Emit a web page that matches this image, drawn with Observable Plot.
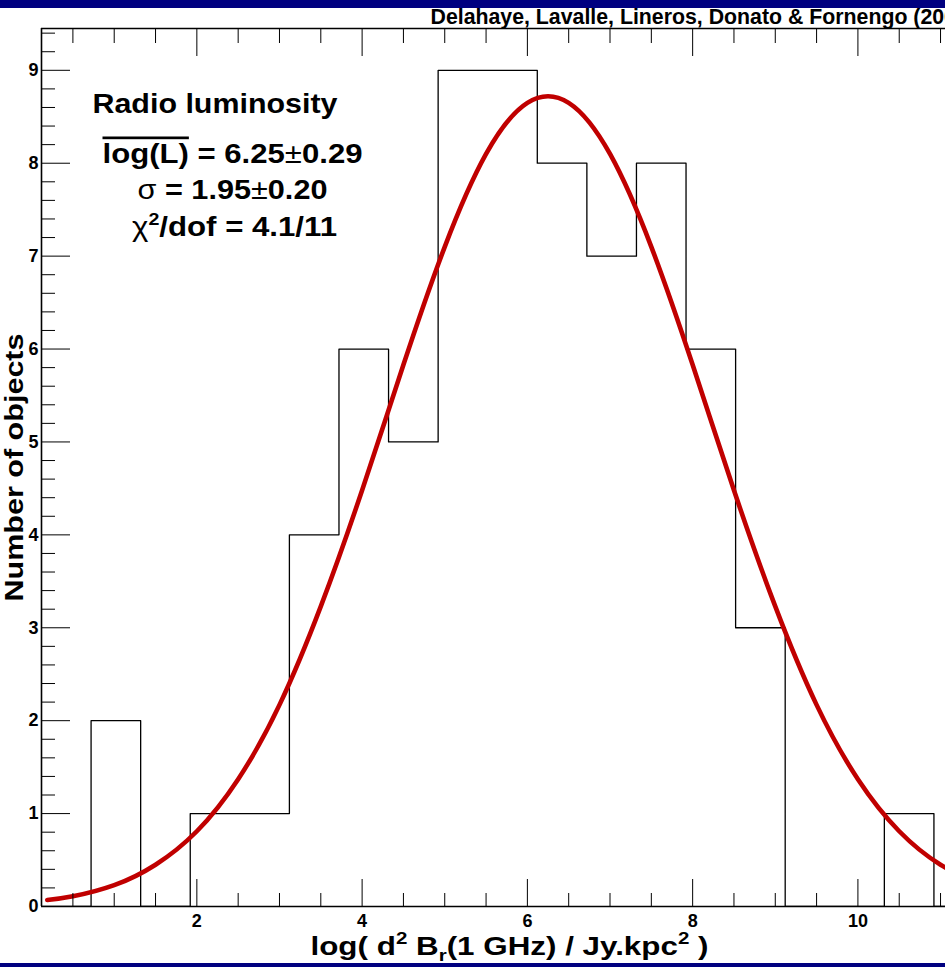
<!DOCTYPE html>
<html>
<head>
<meta charset="utf-8">
<script src="https://cdn.jsdelivr.net/npm/d3@7"></script>
<script src="https://cdn.jsdelivr.net/npm/@observablehq/plot@0.6"></script>
<style>
  html, body { margin: 0; padding: 0; background: #ffffff; }
  #wrap { width: 945px; border-top: 8px solid #000080; border-bottom: 4px solid #000080; overflow: hidden; background: #fff; }
  svg { display: block; }
</style>
</head>
<body>
<div id="wrap"></div>
<script>
// ---- data ----
const binLow   = [0.12, 0.72, 1.32, 1.92, 2.52, 3.12, 3.72, 4.32, 4.92, 5.52, 6.12, 6.72, 7.32, 7.92, 8.52, 9.12, 9.72, 10.32, 10.92, 11.52];
const binCount = [0,    2,    0,    1,    1,    4,    6,    5,    9,    9,    8,    7,    8,    6,    3,    0,    0,    1,     0,     0];

// fitted curve
const fitX = [0.19, 0.5, 1.0, 1.5, 2.0, 2.5, 3.0, 3.5, 4.0, 4.5, 5.0, 5.5, 6.0, 6.5, 7.0, 7.5, 8.0, 8.5, 9.0, 9.5, 10.0, 10.5, 11.0, 11.5];
const fitY = [0.07, 0.11, 0.23, 0.45, 0.81, 1.37, 2.17, 3.23, 4.48, 5.83, 7.10, 8.10, 8.65, 8.65, 8.10, 7.10, 5.83, 4.48, 3.23, 2.17, 1.37, 0.81, 0.45, 0.23];

const xMajorTicks = [2, 4, 6, 8, 10];
const xMinorTicks = [0.5, 1, 1.5, 2.5, 3, 3.5, 4.5, 5, 5.5, 6.5, 7, 7.5, 8.5, 9, 9.5, 10.5, 11];
const yMajorTicks = [0, 1, 2, 3, 4, 5, 6, 7, 8, 9];
const yMinorTicks = d3.range(0, 9.45, 0.2).map(v => +v.toFixed(1)).filter(v => Math.abs(v - Math.round(v)) > 1e-6);

const xDomain = [0.12, 11.06];
const yDomain = [0, 9.45];

const annotationLines = ["Radio luminosity", "log(L) = 6.25±0.29", "σ = 1.95±0.20", "χ2/dof = 4.1/11"];
const xTitle = "log( d2 Br(1 GHz) / Jy.kpc2 )";
const yTitle = "Number of objects";
const credit = "Delahaye, Lavalle, Lineros, Donato & Fornengo (2008)";

// ---- tables for the library ----
const hist = binLow.map((x, i) => ({x, y: binCount[i]}));
const fit = fitX.map((x, i) => ({x, y: fitY[i]}));

const font = "'Liberation Sans', Arial, Helvetica, sans-serif";

const chart = Plot.plot({
  width: 945,
  height: 955,
  marginLeft: 41,
  marginRight: 0,
  marginTop: 20,
  marginBottom: 57,
  x: {domain: xDomain, label: null},
  y: {domain: yDomain, label: null},
  style: {fontFamily: font, fontWeight: "bold", background: "#ffffff", color: "#000", overflow: "hidden"},
  marks: [
    // histogram outline
    Plot.line(hist, {x: "x", y: "y", curve: "step-after", stroke: "#000", strokeWidth: 1.3, clip: true}),
    // fitted gaussian
    Plot.line(fit, {x: "x", y: "y", curve: "natural", stroke: "#c00000", strokeWidth: 4.6, clip: true}),
    // frame (left, bottom, top)
    Plot.ruleX([xDomain[0]], {stroke: "#000", strokeWidth: 1.6}),
    Plot.ruleY([yDomain[0]], {stroke: "#000", strokeWidth: 1.6}),
    Plot.ruleY([yDomain[1]], {stroke: "#000", strokeWidth: 1.3}),
    // inward ticks
    Plot.axisX(xMajorTicks, {anchor: "bottom", tickSize: -27, tickFormat: () => "", label: null, stroke: "#000"}),
    Plot.axisX(xMinorTicks, {anchor: "bottom", tickSize: -13, tickFormat: () => "", label: null, stroke: "#000"}),
    Plot.axisX(xMajorTicks, {anchor: "top", tickSize: -27, tickFormat: () => "", label: null, stroke: "#000"}),
    Plot.axisX(xMinorTicks, {anchor: "top", tickSize: -14, tickFormat: () => "", label: null, stroke: "#000"}),
    Plot.axisY(yMajorTicks, {anchor: "left", tickSize: -29, tickFormat: () => "", label: null, stroke: "#000"}),
    Plot.axisY(yMinorTicks, {anchor: "left", tickSize: -14, tickFormat: () => "", label: null, stroke: "#000"}),
    // tick labels
    Plot.axisX(xMajorTicks, {anchor: "bottom", tickSize: 0, tickPadding: 8, tickFormat: d3.format("d"), fontSize: 18, fontWeight: "bold", label: null, fill: "#000"}),
    Plot.axisY(yMajorTicks, {anchor: "left", tickSize: 0, tickPadding: 3, tickFormat: d3.format("d"), fontSize: 18, fontWeight: "bold", label: null, fill: "#000"}),
    // axis titles
    Plot.text([xTitle], {frameAnchor: "bottom", dx: 16, dy: 48, lineAnchor: "bottom", textAnchor: "middle", fontSize: 26, fontWeight: "bold", fill: "#000"}),
    Plot.text([yTitle], {frameAnchor: "left", dx: -27, rotate: -90, lineAnchor: "middle", textAnchor: "middle", fontSize: 26, fontWeight: "bold", fill: "#000"}),
    // credit at the top
    Plot.text([credit], {frameAnchor: "top-left", dx: 389, dy: -5, lineAnchor: "bottom", textAnchor: "start", fontSize: 21.3, fontWeight: "bold", fill: "#000"}),
    // annotation
    Plot.text([annotationLines[0]], {frameAnchor: "top-left", dx: 51, dy: 84, lineAnchor: "bottom", textAnchor: "start", fontSize: 27, fontWeight: "bold", fill: "#000"}),
    Plot.text([annotationLines[1]], {frameAnchor: "top-left", dx: 191, dy: 134, lineAnchor: "bottom", textAnchor: "middle", fontSize: 27, fontWeight: "bold", fill: "#000"}),
    Plot.text([annotationLines[2]], {frameAnchor: "top-left", dx: 191, dy: 170, lineAnchor: "bottom", textAnchor: "middle", fontSize: 27, fontWeight: "bold", fill: "#000"}),
    Plot.text([annotationLines[3]], {frameAnchor: "top-left", dx: 193, dy: 207, lineAnchor: "bottom", textAnchor: "middle", fontSize: 27, fontWeight: "bold", fill: "#000"})
  ]
});

document.getElementById("wrap").appendChild(chart);

// ---- rich text (super/subscripts, overline) ----
const NS = "http://www.w3.org/2000/svg";
function findText(str) {
  return Array.from(chart.querySelectorAll("text")).find(el => el.textContent === str);
}
function rich(str, parts, length) {
  const el = findText(str);
  if (!el) return;
  while (el.firstChild) el.removeChild(el.firstChild);
  el.style.whiteSpace = "pre";
  for (const p of parts) {
    const t = document.createElementNS(NS, "tspan");
    t.textContent = p.t;
    if (p.size) t.setAttribute("font-size", p.size);
    if (p.dy) t.setAttribute("dy", p.dy);
    if (p.weight) t.setAttribute("font-weight", p.weight);
    if (p.deco) t.setAttribute("text-decoration", p.deco);
    el.appendChild(t);
  }
  if (length) { el.setAttribute("textLength", length); el.setAttribute("lengthAdjust", "spacingAndGlyphs"); }
}
function stretch(str, length) {
  const el = findText(str);
  if (el) { el.setAttribute("textLength", length); el.setAttribute("lengthAdjust", "spacingAndGlyphs"); }
}

stretch(yTitle, 268);
stretch(annotationLines[0], 245);
rich(xTitle, [
  {t: "log( d"}, {t: "2", size: 17, dy: -11}, {t: " B", dy: 11}, {t: "r", size: 17, dy: 6}, {t: "(1 GHz) / Jy.kpc", dy: -6},
  {t: "2", size: 17, dy: -11}, {t: " )", dy: 11}
], 398);
rich(annotationLines[1], [
  {t: "log(L)", deco: "overline"}, {t: " = 6.25"}, {t: "±", weight: "normal"}, {t: "0.29"}
], 260);
rich(annotationLines[2], [
  {t: "σ", weight: "normal"}, {t: " = 1.95"}, {t: "±", weight: "normal"}, {t: "0.20"}
], 190);
rich(annotationLines[3], [
  {t: "χ", weight: "normal"}, {t: "2", size: 17, dy: -11}, {t: "/dof = 4.1/11", dy: 11}
], 205);
</script>
</body>
</html>
